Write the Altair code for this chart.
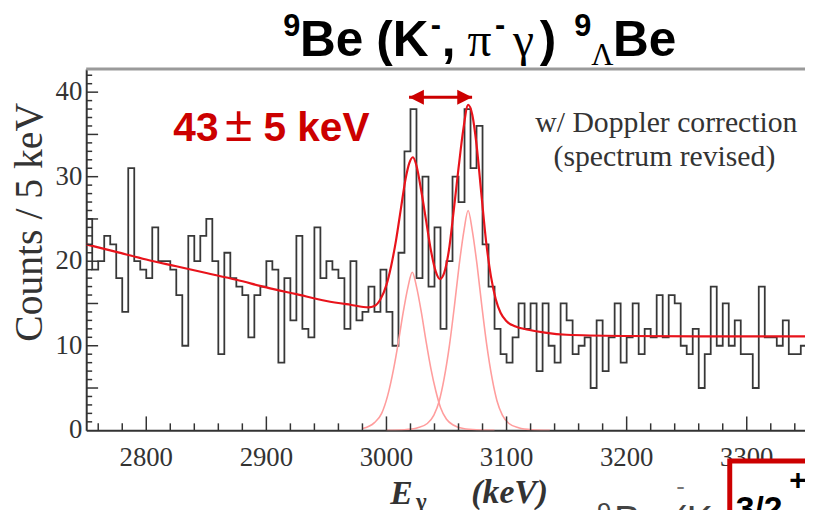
import altair as alt
import pandas as pd

# ---------------- data ----------------
bin_start = 2750
bin_width = 5
counts = [25, 19, 20, 23, 22, 18, 14, 31, 20, 19,
          18, 24, 20, 20, 19, 16, 10, 23, 20, 23,
          25, 20, 9, 21, 18, 17, 16, 11, 16, 17,
          20, 19, 8, 18, 13, 23, 12, 11, 24, 18,
          20, 19, 18, 12, 20, 13, 14, 17, 14, 19,
          14, 10, 21, 33, 38, 18, 30, 17, 24, 12,
          20, 30, 27, 38, 31, 36, 22, 17, 12, 9,
          8, 11, 15, 12, 15, 7, 15, 10, 8, 15,
          13, 9, 10, 11, 5, 13, 7, 11, 15, 8,
          11, 15, 9, 12, 11, 16, 11, 16, 15, 10,
          9, 12, 5, 9, 17, 10, 15, 10, 13, 9,
          9, 5, 17, 11, 11, 10, 13, 9, 9, 10]

fit_x = [2750, 2775, 2800, 2825, 2850, 2875, 2900, 2925, 2950, 2970, 2985, 2990,
         2995, 3000, 3004, 3008, 3012, 3016, 3019, 3022, 3025, 3029, 3033, 3037,
         3041, 3044.5, 3048, 3052, 3056, 3060, 3064, 3068, 3071.5, 3075, 3079,
         3083, 3087, 3091, 3095, 3100, 3107, 3118, 3132, 3150, 3200, 3260, 3350]
fit_y = [22.0, 21.1, 20.2, 19.4, 18.6, 17.8, 16.9, 16.1, 15.3, 14.85, 14.55, 14.7,
         15.5, 17.2, 19.5, 22.5, 26.2, 29.8, 31.6, 32.3, 31.3, 28.3, 24.8, 21.3,
         18.8, 17.9, 18.6, 21.3, 26.0, 31.0, 35.6, 38.5, 37.3, 33.8, 28.0,
         22.3, 18.2, 15.5, 13.9, 12.9, 12.3, 11.9, 11.55, 11.3, 11.15, 11.1, 11.1]

peak1_x = [2980, 2990, 2996, 3001, 3006, 3010, 3014, 3018, 3021.5, 3025, 3029,
           3033, 3037, 3041, 3045, 3050, 3056, 3064, 3075, 3090]
peak1_y = [0.2, 0.9, 2.0, 4.1, 7.3, 10.5, 14.0, 17.0, 18.7, 17.0, 14.0,
           10.5, 7.3, 4.7, 2.7, 1.3, 0.6, 0.2, 0.05, 0.0]

peak2_x = [3000, 3015, 3026, 3034, 3039.5, 3044, 3048, 3052.5, 3056.5, 3060.5,
           3064.5, 3068, 3071.5, 3075.5, 3079.5, 3083.5, 3088, 3092, 3096.5,
           3102, 3110, 3121, 3136]
peak2_y = [0.0, 0.07, 0.3, 0.8, 1.8, 3.5, 6.1, 10.1, 14.6, 19.5,
           23.6, 26.0, 23.6, 19.5, 14.6, 10.1, 6.1, 3.5, 1.8,
           0.8, 0.3, 0.07, 0.0]

arrow_x = [3018.8, 3071.3]
arrow_level = 39.4

x_labels = [2800, 2900, 3000, 3100, 3200, 3300]
y_labels = [0, 10, 20, 30, 40]
x_minor = [v for v in range(2760, 3350, 20) if v % 100 != 0]
y_major = [5, 10, 15, 20, 25, 30, 35, 40]
y_minor = [v for v in range(1, 43) if v % 5 != 0]

# ---------------- chart ----------------
W, H = 726, 365
xs = alt.Scale(domain=[2750, 3348.5], nice=False, zero=False)
ys = alt.Scale(domain=[0, 42.75], nice=False, zero=True)

serif = "Liberation Serif"
sans = "Liberation Sans"

xaxis = alt.Axis(values=x_labels, ticks=False, grid=False, title=None, labels=False,
                 domainColor="#333", domainWidth=2)
yaxis = alt.Axis(values=y_labels, ticks=False, grid=False, title=None, labels=False,
                 domainColor="#333", domainWidth=2)

def X(f):
    return alt.X(f, scale=xs, axis=xaxis)

def Y(f):
    return alt.Y(f, scale=ys, axis=yaxis)

edges = [bin_start + bin_width * i for i in range(len(counts) + 1)]
hist_df = pd.DataFrame({"e": edges, "c": counts + [counts[-1]]})

hist = alt.Chart(hist_df).mark_line(
    interpolate="step-after", color="#383838", strokeWidth=1.8, clip=True
).encode(x=X("e:Q"), y=Y("c:Q"))

def curve(xv, yv, color, width):
    return alt.Chart(pd.DataFrame({"e": xv, "c": yv})).mark_line(
        interpolate="monotone", color=color, strokeWidth=width, clip=True
    ).encode(x=X("e:Q"), y=Y("c:Q"))

pink1 = curve(peak1_x, peak1_y, "#ff9d9d", 1.6)
pink2 = curve(peak2_x, peak2_y, "#ff9d9d", 1.6)
fit = curve(fit_x, fit_y, "#e8131b", 2.2)

def xticks(vals, length):
    return alt.Chart(pd.DataFrame({"e": vals})).mark_rule(color="#333", strokeWidth=1.5).encode(
        x=X("e:Q"), y=alt.value(H), y2=alt.value(H - length))

def yticks(vals, length):
    return alt.Chart(pd.DataFrame({"c": vals})).mark_rule(color="#333", strokeWidth=1.5).encode(
        y=Y("c:Q"), x=alt.value(0), x2=alt.value(length))

# tick labels drawn as text through the same scales (serif font)
xlab = alt.Chart(pd.DataFrame({"e": x_labels})).mark_text(
    font=serif, fontSize=27, color="#333", baseline="middle", align="center"
).encode(x=X("e:Q"), y=alt.value(H + 28), text=alt.Text("e:Q", format="d"))
ylab = alt.Chart(pd.DataFrame({"c": y_labels})).mark_text(
    font=serif, fontSize=27, color="#333", baseline="middle", align="right"
).encode(y=Y("c:Q"), x=alt.value(-4), text=alt.Text("c:Q", format="d"))

one = pd.DataFrame({"t": [""]})
top_frame = alt.Chart(one).mark_rule(color="#9a9a9a", strokeWidth=3).encode(
    x=alt.value(0), x2=alt.value(W), y=alt.value(0))

def txt(s, x, y, size, color="#333", font=serif, weight="normal", style="normal",
        align="left", baseline="alphabetic", angle=0):
    return alt.Chart(pd.DataFrame({"t": [s]})).mark_text(
        font=font, fontSize=size, fontWeight=weight, fontStyle=style, color=color,
        align=align, baseline=baseline, angle=angle
    ).encode(x=alt.value(x), y=alt.value(y), text="t:N")

ox, oy = 87, 67  # page position of the plot origin
def T(s, px, py, size, **kw):
    return txt(s, px - ox, py - oy, size, **kw)

B = dict(font=sans, weight="bold", color="#000")
title_parts = [
    T("9", 286, 34, 31, **B),
    T("Be", 303, 54, 50, **B),
    T("(K", 380, 54, 50, **B),
    T("-", 435, 33, 31, **B),
    T(",", 446, 54, 50, **B),
    T("π", 472, 54, 48, font=serif, color="#000"),
    T("-", 500, 33, 31, **B),
    T("γ", 518, 54, 48, font=serif, color="#000"),
    T(")", 545, 54, 50, **B),
    T("9", 580, 34, 31, **B),
    T("Λ", 597, 63, 31, font=serif, color="#000"),
    T("Be", 619, 54, 50, **B),
]

red = "#cc0000"
annot = [
    T("43", 175, 140, 41, font=sans, weight="bold", color=red),
    T("±", 241, 140, 50, font=sans, color=red, align="center"),
    T("5 keV", 266, 140, 41, font=sans, weight="bold", color=red),
    T("w/ Doppler correction", 673, 131, 30, align="center"),
    T("(spectrum revised)", 671, 165, 30, align="center"),
    T("Counts / 5 keV", 30, 222, 40, angle=270, align="center", baseline="middle"),
    T("E", 394, 506, 34, weight="bold", style="italic"),
    T("γ", 420, 512, 23, weight="bold"),
    T("(keV)", 476, 505, 34, weight="bold", style="italic"),
]

arrow_df = pd.DataFrame({"a": [arrow_x[0]], "b": [arrow_x[1]], "y": [arrow_level]})
arrow_line = alt.Chart(arrow_df).mark_rule(color=red, strokeWidth=3).encode(
    x=X("a:Q"), x2="b:Q", y=Y("y:Q"))
head_l = alt.Chart(pd.DataFrame({"e": [arrow_x[0]], "c": [arrow_level]})).mark_point(
    shape="M 0 0 L 2 -1 L 2 1 Z", filled=True, color=red, size=225, opacity=1
).encode(x=X("e:Q"), y=Y("c:Q"))
head_r = alt.Chart(pd.DataFrame({"e": [arrow_x[1]], "c": [arrow_level]})).mark_point(
    shape="M 0 0 L -2 -1 L -2 1 Z", filled=True, color=red, size=225, opacity=1
).encode(x=X("e:Q"), y=Y("c:Q"))

# cropped neighbouring slide elements (bottom right)
extra = [
    T("9", 603, 524, 26, font=sans, color="#444"),
    T("Be (K", 620, 536, 40, font=sans, color="#444"),
    T("-", 683, 497, 26, font=sans, color="#777"),
]
box = alt.Chart(one).mark_rect(fill="white", stroke=red, strokeWidth=5).encode(
    x=alt.value(737 - ox), x2=alt.value(840 - ox), y=alt.value(463 - oy), y2=alt.value(560 - oy))
box_text = [
    T("3/2", 743, 523, 34, font=sans, weight="bold", color="#000"),
    T("+", 797, 492, 30, font=sans, weight="bold", color="#000"),
]

chart = alt.layer(
    hist, pink1, pink2, fit,
    xticks(x_labels, 14), xticks(x_minor, 7), yticks(y_major, 12), yticks(y_minor, 6),
    xlab, ylab,
    top_frame, *title_parts, *annot, arrow_line, head_l, head_r, *extra, box, *box_text
).properties(
    width=W, height=H,
    autosize=alt.AutoSizeParams(type="none"),
    padding={"left": 79, "top": 59, "right": 0, "bottom": 78},
).configure_view(strokeWidth=0).configure(background="white")

chart.save("out.html", embed_options={"renderer": "svg", "actions": False})
